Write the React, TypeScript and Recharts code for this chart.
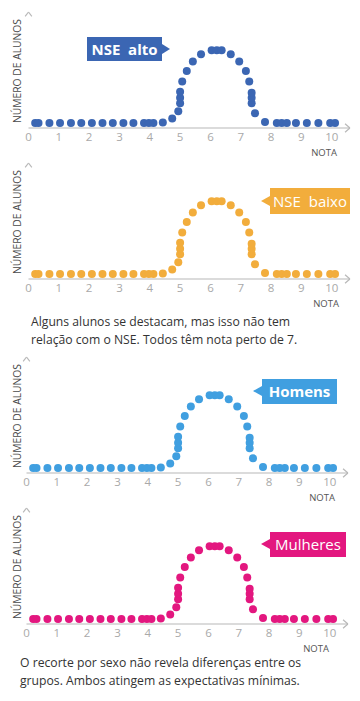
import { ScatterChart, Scatter, XAxis, YAxis, ReferenceLine } from 'recharts';

// notas (eixo x) e número de alunos (eixo y) de cada ponto — a mesma forma nos quatro gráficos
const notas = [
  0.22, 0.33, 0.69, 1.04, 1.4, 1.74, 2.09, 2.44, 2.78, 3.13, 3.46, 3.81, 3.97, 4.12,
  4.43, 4.74, 4.94, 5.0, 5.0, 5.0, 5.07, 5.22, 5.42, 5.69, 6.04, 6.21, 6.37,
  6.67, 6.95, 7.17, 7.28, 7.36, 7.36, 7.36, 7.47, 7.8,
  8.19, 8.35, 8.52, 8.82, 9.18, 9.56, 9.95, 10.11,
];
const alunos = [
  1, 1, 1, 1, 1, 1, 1, 1, 1, 1, 1, 1, 1, 1,
  1.1, 1.9, 3.3, 4.9, 6.0, 7.2, 9.2, 11.3, 13.2, 14.6, 15.4, 15.4, 15.4,
  14.6, 13.2, 11.3, 9.2, 4.9, 6.0, 7.0, 2.9, 1.2,
  1, 1, 1, 1, 1, 1, 1, 1,
];
const xTicks = [0, 1, 2, 3, 4, 5, 6, 7, 8, 9, 10];

const rotulos = ['NSE  alto', 'NSE  baixo', 'Homens', 'Mulheres'];
const cores = ['#3b66b3', '#f2ad3c', '#409fe0', '#e3177f'];
const negrito = [true, false, true, false];

const legendas = [
  ['Alguns alunos se destacam, mas isso não tem', 'relação com o NSE. Todos têm nota perto de 7.'],
  ['O recorte por sexo não revela diferenças entre os', 'grupos. Ambos atingem as expectativas mínimas.'],
];

const pontos = notas.map((nota, i) => ({ nota, alunos: alunos[i] }));

const FONT = '"Open Sans", "Noto Sans", sans-serif';
const AXIS = '#b8b8b8';
const X_MAX = 10.6;
const Y_MAX = 23;

// posição de cada painel na página
const paineis = [
  { top: 12, left: 28.5, nota: 337, box: { x: 87, y: 37, w: 75, h: 24, seta: 'right' } },
  { top: 163, left: 28.5, nota: 339, box: { x: 270, y: 188, w: 80, h: 26, seta: 'left' } },
  { top: 357, left: 26.5, nota: 335, box: { x: 262, y: 379, w: 75, h: 25, seta: 'left' } },
  { top: 508, left: 26.5, nota: 329, box: { x: 270, y: 532, w: 76, h: 25, seta: 'left' } },
];

function Etiqueta({ box, color, text, bold }: any) {
  const seta: any = {
    position: 'absolute',
    top: box.h / 2 - 5.5,
    width: 0,
    height: 0,
    borderTop: '5.5px solid transparent',
    borderBottom: '5.5px solid transparent',
  };
  if (box.seta === 'right') {
    seta.left = '100%';
    seta.borderLeft = `8.5px solid ${color}`;
  } else {
    seta.right = '100%';
    seta.borderRight = `9px solid ${color}`;
  }
  return (
    <div
      style={{
        position: 'absolute',
        left: box.x,
        top: box.y,
        width: box.w,
        height: box.h,
        background: color,
        color: '#fff',
        fontFamily: FONT,
        fontSize: 15,
        fontWeight: bold ? 700 : 400,
        lineHeight: `${box.h}px`,
        textAlign: 'center',
        whiteSpace: 'pre',
      }}
    >
      {text}
      <div style={seta} />
    </div>
  );
}

function Painel({ idx }: { idx: number }) {
  const p = paineis[idx];
  const color = cores[idx];
  const plotH = 116;
  return (
    <>
      <div style={{ position: 'absolute', left: 0, top: p.top - 12 }}>
        <ScatterChart width={360} height={12 + plotH + 22} margin={{ top: 12, right: 360 - p.left - 321.4, bottom: 0, left: p.left }}>
          <XAxis
            type="number"
            dataKey="nota"
            domain={[0, X_MAX]}
            ticks={xTicks}
            interval={0}
            allowDataOverflow
            tickLine={false}
            tickSize={0}
            tickMargin={5}
            height={22}
            axisLine={{ stroke: AXIS, strokeWidth: 1.2 }}
            tick={{ fill: '#a9a9a9', fontSize: 11.5, fontFamily: FONT }}
          />
          <YAxis
            type="number"
            dataKey="alunos"
            domain={[0, Y_MAX]}
            width={0}
            tick={false}
            tickLine={false}
            axisLine={{ stroke: AXIS, strokeWidth: 1.2 }}
          />
          <ReferenceLine segment={[{ x: X_MAX - 0.16, y: 0.85 }, { x: X_MAX, y: 0 }]} stroke={AXIS} strokeWidth={1.2} ifOverflow="visible" />
          <ReferenceLine segment={[{ x: X_MAX - 0.16, y: -0.85 }, { x: X_MAX, y: 0 }]} stroke={AXIS} strokeWidth={1.2} ifOverflow="visible" />
          <ReferenceLine segment={[{ x: -0.11, y: Y_MAX - 0.85 }, { x: 0, y: Y_MAX }]} stroke={AXIS} strokeWidth={1.2} ifOverflow="visible" />
          <ReferenceLine segment={[{ x: 0.11, y: Y_MAX - 0.85 }, { x: 0, y: Y_MAX }]} stroke={AXIS} strokeWidth={1.2} ifOverflow="visible" />
          <Scatter
            data={pontos}
            fill={color}
            isAnimationActive={false}
            shape={(s: any) => <circle cx={s.cx} cy={s.cy} r={4} fill={color} />}
          />
        </ScatterChart>
      </div>
      <div
        style={{
          position: 'absolute',
          left: 17 - 60,
          top: p.top + plotH / 2 + 1 - 6,
          width: 120,
          height: 12,
          lineHeight: '12px',
          textAlign: 'center',
          transform: 'rotate(-90deg)',
          fontFamily: FONT,
          fontSize: 10.3,
          color: '#4a4a4a',
          whiteSpace: 'nowrap',
        }}
      >
        NÚMERO DE ALUNOS
      </div>
      <div
        style={{
          position: 'absolute',
          right: 360 - p.nota,
          top: p.top + plotH + 19,
          fontFamily: FONT,
          fontSize: 9.5,
          lineHeight: '12px',
          color: '#555',
        }}
      >
        NOTA
      </div>
      <Etiqueta box={p.box} color={color} text={rotulos[idx]} bold={negrito[idx]} />
    </>
  );
}

function Legenda({ lines, left, top }: { lines: string[]; left: number; top: number }) {
  return (
    <div
      style={{
        position: 'absolute',
        left,
        top,
        fontFamily: FONT,
        fontSize: 12.2,
        lineHeight: '17.5px',
        color: '#333',
        whiteSpace: 'nowrap',
      }}
    >
      {lines.map((l) => (
        <div key={l}>{l}</div>
      ))}
    </div>
  );
}

export default function App() {
  return (
    <div style={{ position: 'relative', width: 360, height: 701, background: '#fff', overflow: 'hidden' }}>
      <style>{'body{margin:0}'}</style>
      <Painel idx={0} />
      <Painel idx={1} />
      <Legenda lines={legendas[0]} left={31} top={313} />
      <Painel idx={2} />
      <Painel idx={3} />
      <Legenda lines={legendas[1]} left={20} top={654} />
    </div>
  );
}
